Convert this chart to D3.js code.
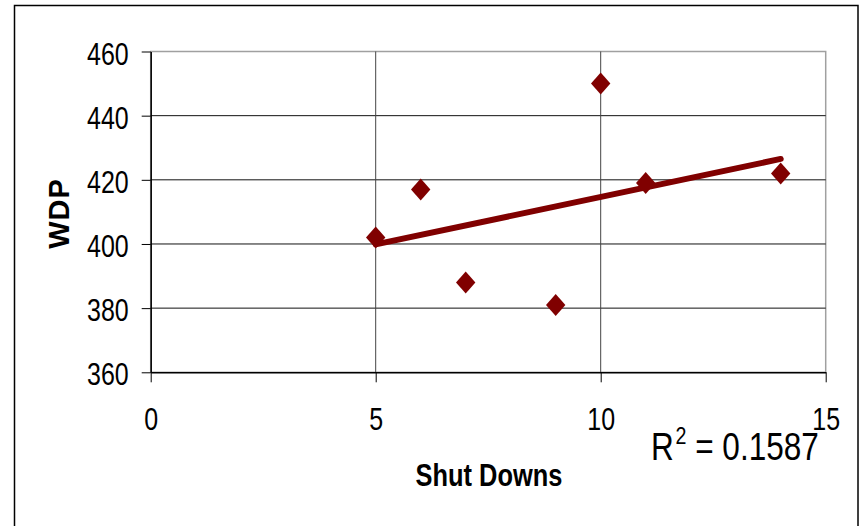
<!DOCTYPE html>
<html>
<head>
<meta charset="utf-8">
<script src="https://cdn.jsdelivr.net/npm/d3@7"></script>
<style>
  html, body { margin: 0; padding: 0; background: #fff; }
  svg { display: block; }
  text { font-family: "Liberation Sans", Arial, sans-serif; fill: #000; }
</style>
</head>
<body>
<svg id="chart" width="861" height="526"></svg>
<script>
// ---- data ----
const shutDowns = [5, 6, 7, 9, 10, 11, 14];
const wdp = [402, 417, 388, 381, 450, 419, 422];
const xTicks = [0, 5, 10, 15];
const yTicks = [360, 380, 400, 420, 440, 460];
const xTitle = "Shut Downs";
const yTitle = "WDP";
const r2Value = "0.1587";

(function () {
const svg = d3.select("#chart");
const pLeft = 150.7, pRight = 825.7, pTop = 51.5, pBottom = 372.3;
const narrow = 0.82;

const x = d3.scaleLinear().domain([0, 15]).range([pLeft, pRight]);
const y = d3.scaleLinear().domain([360, 460]).range([pBottom, pTop]);

// outer border
svg.append("rect").attr("x", 14.5).attr("y", 5.5).attr("width", 843.5).attr("height", 530)
  .attr("fill", "#fff").attr("stroke", "#000").attr("stroke-width", 1.5);

// plot frame (top/right gray)
svg.append("rect").attr("x", pLeft).attr("y", pTop).attr("width", pRight - pLeft).attr("height", pBottom - pTop)
  .attr("fill", "#fff").attr("stroke", "#a0a0a0").attr("stroke-width", 1.5);

// horizontal gridlines
svg.append("g").selectAll("line").data(yTicks.filter(v => v > 360 && v < 460)).join("line")
  .attr("x1", pLeft).attr("x2", pRight).attr("y1", d => y(d)).attr("y2", d => y(d))
  .attr("stroke", "#111").attr("stroke-width", 1);

// vertical gridlines
svg.append("g").selectAll("line").data(xTicks.filter(v => v > 0 && v < 15)).join("line")
  .attr("y1", pTop).attr("y2", pBottom).attr("x1", d => x(d)).attr("x2", d => x(d))
  .attr("stroke", "#444").attr("stroke-width", 1);

// axes
const yAxis = svg.append("g").attr("transform", `translate(${pLeft},0)`)
  .call(d3.axisLeft(y).tickValues(yTicks).tickSize(9).tickPadding(0).tickSizeOuter(0));
const xAxis = svg.append("g").attr("transform", `translate(0,${pBottom})`)
  .call(d3.axisBottom(x).tickValues(xTicks).tickSize(10).tickPadding(0).tickSizeOuter(0));

[yAxis, xAxis].forEach(g => {
  g.select(".domain").attr("stroke", "#000").attr("stroke-width", 1.5);
  g.selectAll(".tick line").attr("stroke", "#000").attr("stroke-width", 1);
  g.selectAll(".tick text").attr("font-size", 30.5).attr("fill", "#000")
    .style("font-family", '"Liberation Sans", Arial, sans-serif');
});
yAxis.selectAll(".tick text")
  .attr("x", 0).attr("dy", null).attr("y", 0)
  .attr("text-anchor", "end")
  .attr("transform", `translate(-22,12.5) scale(${narrow},1)`);
xAxis.selectAll(".tick text")
  .attr("y", 0).attr("dy", null)
  .attr("text-anchor", "middle")
  .attr("transform", `translate(0,58) scale(${narrow},1)`);

// trendline (least squares)
const n = shutDowns.length;
const mx = d3.mean(shutDowns), my = d3.mean(wdp);
let sxy = 0, sxx = 0;
for (let i = 0; i < n; i++) { sxy += (shutDowns[i] - mx) * (wdp[i] - my); sxx += (shutDowns[i] - mx) ** 2; }
const slope = sxy / sxx, intercept = my - slope * mx;
const xMin = d3.min(shutDowns), xMax = d3.max(shutDowns);
svg.append("line")
  .attr("x1", x(xMin)).attr("y1", y(intercept + slope * xMin))
  .attr("x2", x(xMax)).attr("y2", y(intercept + slope * xMax))
  .attr("stroke", "#800000").attr("stroke-width", 6).attr("stroke-linecap", "round");

// markers
const hw = 9.7, hh = 11;
svg.append("g").selectAll("path").data(shutDowns.map((d, i) => [d, wdp[i]])).join("path")
  .attr("d", d => {
    const cx = x(d[0]), cy = y(d[1]);
    return `M${cx},${cy - hh}L${cx + hw},${cy}L${cx},${cy + hh}L${cx - hw},${cy}Z`;
  })
  .attr("fill", "#800000");

// axis titles
svg.append("text").attr("transform", `translate(489,486) scale(${narrow},1)`)
  .attr("text-anchor", "middle").attr("font-size", 31).attr("font-weight", "bold").text(xTitle);
svg.append("text").attr("transform", `translate(69,213.5) rotate(-90)`)
  .attr("text-anchor", "middle").attr("font-size", 29).attr("font-weight", "bold")
  .attr("letter-spacing", 1).text(yTitle);

// R^2 label
const r2 = svg.append("text").attr("transform", `translate(651,460) scale(${narrow},1)`)
  .attr("font-size", 38.5);
r2.append("tspan").text("R");
r2.append("tspan").attr("font-size", 24).attr("dy", -16).attr("dx", 2).text("2");
r2.append("tspan").attr("dy", 16).text(" = " + r2Value);
})();
</script>
</body>
</html>
